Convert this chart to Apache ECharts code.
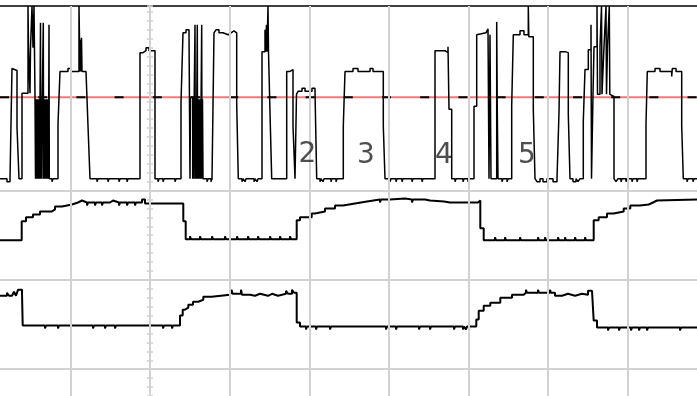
<!DOCTYPE html>
<html>
<head>
<meta charset="utf-8">
<script src="https://cdn.jsdelivr.net/npm/echarts@6/dist/echarts.min.js"></script>
<style>
html,body{margin:0;padding:0;background:#fff;}
#chart{width:697px;height:396px;}
</style>
</head>
<body>
<div id="chart"></div>
<script>
// time axis: t (1 unit ~ 1/79.6 division), value axis: v (90 units per division)
const gridT = [-79.6, 0, 79.6, 159.3, 238.9, 318.6, 398.2, 477.8];
const gridV = [0, 90, 180];
const refLevel = 274;
const labelText = ['2', '3', '4', '5'];
const labelT = [157.5, 215.8, 294, 377];
const labelV = [216, 215, 215, 215];

const ch1 = [
[-150,192],[-143,192],[-143,189],[-140,189],[-140,192],
[-138,192],[-138,303],[-136,303],[-136,301],[-133,301],[-133,244],[-131,244],[-131,192],
[-128,192],[-128,278],[-122,278],
[-122,366],[-121.5,366],[-121.5,324],[-120,324],[-120,278],[-119.5,278],[-119.5,324],[-118,324],[-118,366],[-117,366],[-117,324],[-116,324],[-116,366],[-115,366],[-115,274],
[-114.5,274],[-114.5,192],[-114,192],[-114,272],[-113.5,272],[-113.5,192],[-113,192],[-113,272],[-112.5,272],[-112.5,192],[-112,192],[-112,272],[-111.5,272],[-111.5,192],[-111,192],[-111,272],[-110.5,272],[-110.5,192],[-110,192],[-110,272],[-109.5,272],[-109.5,349],[-109.2,349],[-109.2,192],[-108.7,192],[-108.7,272],[-108.2,272],[-108.2,192],[-107.7,192],[-107.7,274],[-106.7,274],[-106.7,349],[-106.4,349],[-106.4,192],[-106,192],[-106,272],[-105.5,272],[-105.5,192],[-105,192],[-105,272],[-104.5,272],[-104.5,192],[-104,192],[-104,272],[-103.5,272],[-103.5,192],[-103,192],[-103,272],[-102.5,272],[-102.5,192],[-102,192],[-102,272],[-101.5,272],[-101.5,192],[-101,192],[-101,347],[-100.7,347],[-100.7,192],
[-98,192],[-98,189],[-97,189],[-97,192],
[-92,192],[-92,247],[-90,247],[-90,300],[-82,300],[-82,303],[-79,303],[-79,300],[-71,300],[-71,366],[-70.5,366],[-70.5,332],[-70,332],[-70,300],[-69.5,300],[-69.5,332],[-69,332],[-69,300],[-68.5,300],[-68.5,334],[-68,334],[-68,300],[-64,300],[-64,302],[-62,302],[-62,245],[-60,245],[-60,192],
[-53,192],[-53,189],[-52,189],[-52,192],[-42,192],[-42,189],[-41,189],[-41,192],[-31,192],[-31,189],[-30,189],[-30,192],[-23,192],[-23,189],[-22,189],[-22,192],
[-10,192],[-10,319],[-7,319],[-7,321],[-4,321],[-4,324],[-1,324],[-1,321],[5,321],[5,192],
[8,192],[8,189],[9,189],[9,192],[13,192],[13,189],[14,189],[14,192],[25,192],[25,189],[26,189],[26,192],
[31,192],[31,269],[33,269],[33,339],[36,339],[36,342],[39,342],[39,339],[40,339],[40,192],[40.5,192],[40.5,274],[42.7,274],[42.7,192],[43.2,192],[43.2,272],[43.7,272],[43.7,192],[44.2,192],[44.2,272],[45,272],[45,347],[45.3,347],[45.3,192],[45.8,192],[45.8,272],[46.3,272],[46.3,192],[46.8,192],[46.8,272],[47.3,272],[47.3,347],[47.6,347],[47.6,192],[48.1,192],[48.1,272],[48.6,272],[48.6,192],[49.1,192],[49.1,272],[49.6,272],[49.6,192],[50.1,192],[50.1,272],[50.6,272],[50.6,192],[51.1,192],[51.1,272],[51.7,272],[51.7,347],[52,347],[52,192],[52.5,192],[52.5,272],[53,272],[53,192],
[57,192],[57,189],[58,189],[58,192],[61,192],[61,189],[62,189],[62,192],
[64,192],[64,339],[66,339],[66,342],[69,342],[69,339],[73,339],[73,337],[78,337],[78,339],[81,339],[81,341],[84,341],[84,339],[86.7,339],[86.7,267],[88.3,267],[88.3,192],
[92,192],[92,189],[93,189],[93,192],[95,192],[95,189],[96,189],[96,192],[104,192],[104,189],[105,189],[105,192],[107,192],[107,189],[108,189],[108,192],
[112,192],[112,320],[115,320],[115,342],[115.5,342],[115.5,320],[116.5,320],[116.5,347],[117,347],[117,320],[118,320],[118,366],[118.5,366],[118.5,320],[120,320],[120,259],[121.7,259],[121.7,192],
[136.7,192],[136.7,300],[140,300],[140,302],[143,302],[143,245],[145,245],[145,192],[146.5,192],[146.5,277],[148,277],[148,280],[152,280],[152,283],[155,283],[155,280],[162,280],[162,283],[165,283],[165,280],[166.7,280],[166.7,192],
[170,192],[170,189],[171,189],[171,192],[173,192],[173,189],[174,189],[174,192],[181,192],[181,189],[182,189],[182,192],[186,192],[186,189],[187,189],[187,192],
[193.3,192],[193.3,245],[195,245],[195,300],[203,300],[203,303],[208,303],[208,300],[220,300],[220,303],[223,303],[223,300],[233.3,300],[233.3,245],[235,245],[235,192],
[240,192],[240,189],[241,189],[241,192],[246,192],[246,189],[247,189],[247,192],[252,192],[252,189],[253,189],[253,192],[262,192],[262,189],[263,189],[263,192],[272,192],[272,189],[273,189],[273,192],
[285,192],[285,321],[295,321],[295,319],[298,319],[298,325],[299,325],[299,262],[301.7,262],[301.7,192],
[305,192],[305,189],[306,189],[306,192],[313,192],[313,189],[314,189],[314,192],[318,192],[318,189],[319,189],[319,192],
[324,192],[324,265],[326.7,265],[326.7,337],[328,337],[328,339],[336,339],[336,341],[338,341],[338,343],[339,343],[339,192],[340,192],[340,337],[341,337],[341,192],[346.7,192],[346.7,350],[347.2,350],[347.2,270],[348,270],[348,192],
[352,192],[352,189],[353,189],[353,192],[357,192],[357,189],[358,189],[358,192],
[361.7,192],[361.7,265],[363.3,265],[363.3,337],[370,337],[370,341],[374,341],[374,337],[378.3,337],[378.3,366],[378.8,366],[378.8,335],[383.3,335],[383.3,262],[385,262],[385,192],
[387,192],[387,189],[390,189],[390,192],[393,192],[393,189],[397,189],[397,192],[403,192],[403,189],[407,189],[407,192],
[409,192],[409,259],[410,259],[410,320],[415,320],[415,319],[418.3,319],[418.3,257],[420,257],[420,192],
[423,192],[423,189],[426,189],[426,192],[428,192],[428,189],[430,189],[430,192],
[433.3,192],[433.3,250],[435,250],[435,302],[438.3,302],[438.3,322],[441,322],[441,347],[441.5,347],[441.5,192],[443,192],[443,277],[444,277],[444,325],[447,325],[447,366],[447.5,366],[447.5,277],[450,277],[450,325],[451.5,325],[451.5,366],[452,366],[452,277],[454,277],[454,325],[456,325],[456,366],[456.5,366],[456.5,277],[457.5,277],[457.5,325],[459.3,325],[459.3,366],[459.8,366],[459.8,277],[461.7,277],[461.7,275],[464,275],[464,192],
[466,192],[466,189],[468,189],[468,192],[471,192],[471,189],[472,189],[472,192],[476,192],[476,189],[477,189],[477,192],[482,192],[482,189],[483,189],[483,192],[487,192],[487,189],[488,189],[488,192],
[496,192],[496,247],[497.3,247],[497.3,300],[505,300],[505,303],[510,303],[510,300],[521.7,300],[521.7,295],[522.3,295],[522.3,303],[526,303],[526,300],[531.7,300],[531.7,245],[533.3,245],[533.3,192],
[537,192],[537,189],[538,189],[538,192],[543,192],[543,189],[544,189],[544,192],[547,192]
];

const ch2 = [
[-150,130],[-142,130],[-142,132],[-141,132],[-141,130],
[-128.3,130],[-128.3,149],[-124,149],[-124,153],[-117,153],[-117,156],[-110,156],[-110,159],[-98,159],[-98,161],[-95,161],[-95,164],[-88,164],[-88,166],[-78,166],[-78,168],
[-72,168],[-72,170],[-68,170],[-68,168],[-63,168],[-63,165],[-62,165],[-62,168],[-55,168],[-55,165],[-54,165],[-54,168],[-48,168],[-48,165],[-47,165],[-47,168],[-40,168],[-40,170],[-37,170],[-37,168],[-31,168],[-31,165],[-30,165],[-30,168],[-23,168],[-23,165],[-22,165],[-22,168],[-15,168],[-15,165],[-14,165],[-14,168],[-8,168],[-8,171],[-5,171],[-5,167],[33.3,167],
[33.3,149],[35.7,149],[35.7,131],
[40,131],[40,134],[41,134],[41,131],[50,131],[50,134],[51,134],[51,131],[62,131],[62,134],[63,134],[63,131],[75,131],[75,134],[76,134],[76,131],[87,131],[87,134],[88,134],[88,131],[98,131],[98,134],[99,134],[99,131],[108,131],[108,134],[109,134],[109,131],[120,131],[120,134],[121,134],[121,131],[130,131],[130,134],[131,134],[131,131],[140,131],[140,134],[141,134],[141,131],
[146.7,131],[146.7,150],[150,150],[150,153],[161.7,153],[161.7,157],[165,157],[165,159],[175,159],[175,162],[185,162],[185,165],[193,165],[193,167],
[205,167],[205,169],[217,169],[217,171],[230,171],[230,168],[231,168],[231,171],[240,171],[240,172],[255,172],[255,171],[262,171],[262,168],[263,168],[263,171],[275,171],[275,170],[280,170],[280,169],[294,169],[294,168],[300,168],[300,166],[301,166],[301,168],[310,168],[310,166],[311,166],[311,168],[318,168],[318,166],[319,166],[319,168],[324,168],[324,166],[325,166],[325,168],[328,168],[328,170],[330.3,170],[330.3,142],[333.7,142],[333.7,130],
[345,130],[345,133],[346,133],[346,130],[355,130],[355,133],[356,133],[356,130],[370,130],[370,133],[371,133],[371,130],[388,130],[388,133],[389,133],[389,130],[395,130],[395,133],[396,133],[396,130],[408,130],[408,133],[409,133],[409,130],[415,130],[415,133],[416,133],[416,130],[425,130],[425,133],[426,133],[426,130],[435,130],[435,133],[436,133],[436,130],
[443.7,130],[443.7,150],[448.7,150],[448.7,153],[457,153],[457,157],[463.7,157],[463.7,159],[473.7,159],[473.7,162],[480.3,162],[480.3,165],[490,165],[490,166],[498.7,166],[498.7,168],[503,168],[503,170],[507,170],[507,171],[547,171]
];

const ch3 = [
[-150,74],[-143,74],[-143,77],[-141,77],[-141,74],[-138,74],[-138,76],[-136,76],[-136,78],[-134,78],[-134,74],[-132,74],[-132,80],[-128,80],[-128,77],[-127.3,77],[-127.3,44],
[-105,44],[-105,41],[-104,41],[-104,44],[-92,44],[-92,41],[-91,41],[-91,44],[-57,44],[-57,41],[-56,41],[-56,44],[-45,44],[-45,41],[-44,41],[-44,44],[-35,44],[-35,41],[-34,41],[-34,44],[13,44],[13,41],[14,41],[14,44],[22,44],[22,41],[23,41],[23,44],
[30,44],[30,54],[32.7,54],[32.7,60],[35,60],[35,62],[38.3,62],[38.3,65],[43,65],[43,68],[48.3,68],[48.3,70],[53.3,70],[53.3,73],[61.7,73],[61.7,75],[80,75],[80,77],[81.5,77],[81.5,80],[82.5,80],[82.5,76],[91,76],[91,80],[92,80],[92,75],[100,75],[100,74],[105,74],[105,76],[110,76],[110,74],[118,74],[118,76],[122,76],[122,74],[128,74],[128,76],[136,76],[136,79],[138,79],[138,76],[142,76],[142,80],[144,80],[144,77],[146.7,77],[146.7,47],[150,47],[150,43],
[156,43],[156,40],[157,40],[157,43],[166,43],[166,40],[167,40],[167,43],[180,43],[180,40],[181,40],[181,43],[236,43],[236,40],[237,40],[237,43],[246,43],[246,40],[247,40],[247,43],[269,43],[269,40],[270,40],[270,43],[280,43],[280,40],[281,40],[281,43],[304,43],[304,40],[305,40],[305,43],[313,43],[313,40],[314,40],[314,43],[316,43],[316,40],[317,40],[317,43],
[326.3,43],[326.3,50],[328.7,50],[328.7,59],[333.7,59],[333.7,64],[340.3,64],[340.3,67],[350.3,67],[350.3,72],[362,72],[362,75],[373.7,75],[373.7,77],[376,77],[376,80],[377,80],[377,77],[388,77],[388,80],[389,80],[389,77],[400,77],[400,80],[401,80],[401,77],[405,77],[405,74],[412,74],[412,76],[418,76],[418,74],[425,74],[425,76],[432,76],[432,75],[438,75],[438,79],[442,79],[442,80],[443.7,80],[443.7,49],[447,49],[447,42],
[458,42],[458,39],[459,39],[459,42],[469,42],[469,39],[470,39],[470,42],[481,42],[481,39],[482,39],[482,42],[489,42],[489,39],[490,39],[490,42],[497,42],[497,39],[498,39],[498,42],[530,42],[530,39],[531,39],[531,42],[547,42]
];

const tMin = -150, tMax = 547, vMin = -27, vMax = 366;

const chart = echarts.init(document.getElementById('chart'), null, {renderer: 'canvas'});
const gridColor = '#d2d2d2';
const tickAxisBase = {
  type: 'value', min: vMin, max: vMax, interval: 9,
  axisLine: {show: true, onZero: true, onZeroAxisIndex: 0, lineStyle: {color: '#cfcfcf', width: 2}},
  axisTick: {show: true, length: 3, lineStyle: {color: '#cfcfcf', width: 1.5}},
  axisLabel: {show: false},
  splitLine: {show: false}
};
const traceLine = (name, data, w) => ({
  name, type: 'line', data, z: 3, showSymbol: false, symbol: 'none',
  lineStyle: {color: '#000', width: w}, animation: false, silent: true
});

chart.setOption({
  animation: false,
  backgroundColor: '#fff',
  grid: {left: 0, right: 0, top: 6, bottom: -3, containLabel: false},
  xAxis: {
    type: 'value', min: tMin, max: tMax, position: 'top',
    axisLine: {show: true, onZero: false, lineStyle: {color: '#000', width: 1.5}},
    axisTick: {show: false}, axisLabel: {show: false}, splitLine: {show: false}
  },
  yAxis: [
    Object.assign({}, tickAxisBase, {position: 'left'}),
    Object.assign({}, tickAxisBase, {position: 'right'})
  ],
  series: [
    {
      name: 'grid', type: 'line', data: [], z: 1, silent: true,
      markLine: {
        silent: true, symbol: ['none', 'none'], label: {show: false}, animation: false,
        lineStyle: {color: gridColor, width: 2, type: 'solid'},
        emphasis: {disabled: true},
        data: gridT.map(t => ({xAxis: t})).concat(gridV.map(v => ({yAxis: v})))
      }
    },
    {
      name: 'ref', type: 'line', z: 2, silent: true, showSymbol: false, symbol: 'none',
      data: [[tMin, refLevel], [tMax, refLevel]],
      lineStyle: {color: '#f37878', width: 2}
    },
    traceLine('CH1', ch1, 1.5),
    traceLine('CH2', ch2, 2),
    traceLine('CH3', ch3, 2),
    {
      name: 'refDash', type: 'line', z: 4, silent: true, showSymbol: false, symbol: 'none',
      data: [[tMin, refLevel], [tMax, refLevel]],
      lineStyle: {color: '#000', width: 2, type: [9, 29.2]}
    },
    {
      name: 'labels', type: 'scatter', z: 5, silent: true, symbolSize: 1,
      itemStyle: {color: 'rgba(0,0,0,0)'},
      data: labelText.map((s, i) => ({name: s, value: [labelT[i], labelV[i]]})),
      label: {show: true, position: 'inside', formatter: p => p.name,
        fontFamily: 'DejaVu Sans', fontSize: 28, color: '#222'}
    }
  ]
});
</script>
</body>
</html>
